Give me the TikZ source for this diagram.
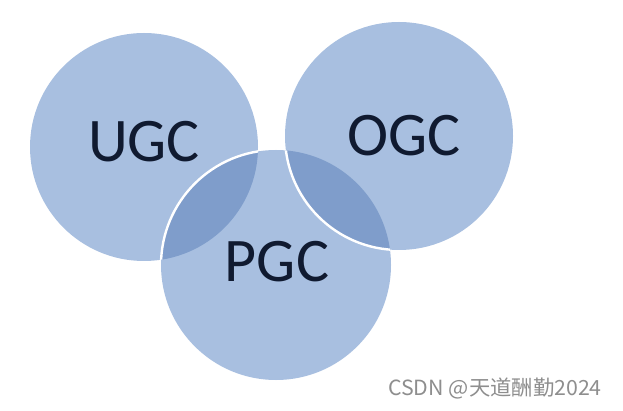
\documentclass[tikz,border=0pt]{standalone}
\usepackage{fontspec}
\setmainfont{Carlito}
\newfontfamily\cjk{Noto Sans CJK SC}
\definecolor{circfill}{HTML}{A8BFE0}
\definecolor{lensfill}{HTML}{7F9DCB}
\definecolor{txt}{HTML}{101A30}
\definecolor{wm}{HTML}{8E8E8E}
\begin{document}
\begin{tikzpicture}[x=1pt,y=-1pt,
  circ/.style={circle, fill=circfill, draw=none, inner sep=0pt},
  lbl/.style={font=\fontsize{62}{62}\selectfont, text=txt, inner sep=0pt},
  ring/.style={draw=white, line width=2.4pt}]
\useasboundingbox (0,0) rectangle (623,411);
\fill[white] (0,0) rectangle (623,411);
% circles
\node[circ, minimum width=228pt] (U) at (144,147) {};
\node[circ, minimum width=230pt] (P) at (276,265) {};
\node[circ, minimum width=228pt] (O) at (399,136) {};
% lenses
\begin{scope}
  \clip (144,147) circle (114);
  \fill[lensfill] (276,265) circle (115);
\end{scope}
\begin{scope}
  \clip (399,136) circle (114);
  \fill[lensfill] (276,265) circle (115);
\end{scope}
% white borders
\begin{scope}
  \clip (144,147) circle (114);
  \draw[ring] (276,265) circle (115);
\end{scope}
\begin{scope}
  \clip (276,265) circle (115);
  \draw[ring] (399,136) circle (114);
\end{scope}
% labels
\node[lbl] (tU) at (144,142) {UGC};
\node[lbl] (tO) at (404,136) {OGC};
\node[lbl] (tP) at (277,262) {PGC};
% watermark
\node[text=wm, font=\cjk\fontsize{22}{22}\selectfont, inner sep=0pt] (wmk) at (495,388) {\scalebox{0.97}[0.95]{CSDN @天道酬勤2024}};
\end{tikzpicture}
\end{document}
